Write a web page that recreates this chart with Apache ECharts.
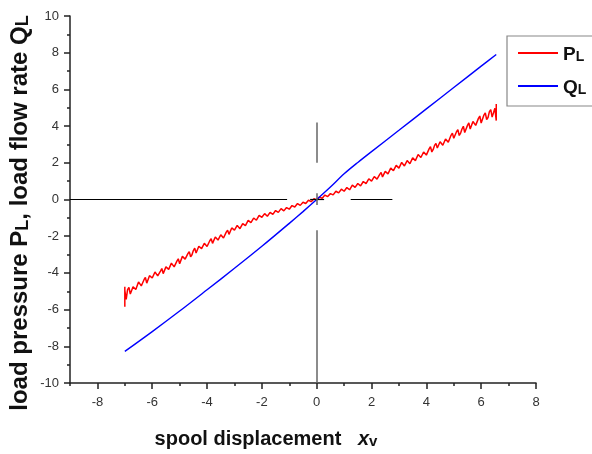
<!DOCTYPE html>
<html><head><meta charset="utf-8">
<script src="https://cdn.jsdelivr.net/npm/echarts@6/dist/echarts.min.js"></script>
<style>html,body{margin:0;padding:0;background:#fff}#c{width:592px;height:454px}</style>
</head><body><div id="c"></div>
<script>
// ---- data ----
const xTickLabels = [-8, -6, -4, -2, 0, 2, 4, 6, 8];
const yTickLabels = [-10, -8, -6, -4, -2, 0, 2, 4, 6, 8, 10];

const blueX = [-7, -6, -5, -4, -3, -2, -1, -0.5, 0, 0.5, 1, 1.5, 2, 3, 4, 5, 6, 6.55];
const blueY = [-8.28, -7.2, -6.08, -4.92, -3.75, -2.55, -1.3, -0.66, 0, 0.68, 1.4, 2.02, 2.61, 3.77, 4.94, 6.10, 7.27, 7.9];

// red (noisy) samples, read as an envelope from the picture
const redX = [-7.0, -7.0, -7.0, -7.0,
  -6.9, -6.8, -6.7, -6.6, -6.5, -6.4, -6.3, -6.2, -6.1, -6.0,
  -5.9, -5.8, -5.7, -5.6, -5.5, -5.4, -5.3, -5.2, -5.1, -5.0,
  -4.9, -4.8, -4.7, -4.6, -4.5, -4.4, -4.3, -4.2, -4.1, -4.0,
  -3.9, -3.8, -3.7, -3.6, -3.5, -3.4, -3.3, -3.2, -3.1, -3.0,
  -2.9, -2.8, -2.7, -2.6, -2.5, -2.4, -2.3, -2.2, -2.1, -2.0,
  -1.9, -1.8, -1.7, -1.6, -1.5, -1.4, -1.3, -1.2, -1.1, -1.0,
  -0.9, -0.8, -0.7, -0.6, -0.5, -0.4, -0.3, -0.2, -0.1, 0.0,
  0.1, 0.2, 0.3, 0.4, 0.5, 0.6, 0.7, 0.8, 0.9, 1.0,
  1.1, 1.2, 1.3, 1.4, 1.5, 1.6, 1.7, 1.8, 1.9, 2.0,
  2.1, 2.2, 2.3, 2.4, 2.5, 2.6, 2.7, 2.8, 2.9, 3.0,
  3.1, 3.2, 3.3, 3.4, 3.5, 3.6, 3.7, 3.8, 3.9, 4.0,
  4.1, 4.2, 4.3, 4.4, 4.5, 4.6, 4.7, 4.8, 4.9, 5.0,
  5.1, 5.2, 5.3, 5.4, 5.5, 5.6, 5.7, 5.8, 5.9, 6.0,
  6.1, 6.2, 6.3, 6.4, 6.5, 6.55, 6.55, 6.55];
const redY = [-5.55, -4.75, -5.85, -4.95,
  -4.91, -5.15, -4.75, -4.90, -4.49, -4.71, -4.37, -4.56, -4.15, -4.28,
  -3.95, -4.16, -3.90, -4.04, -3.67, -3.81, -3.47, -3.67, -3.36, -3.50,
  -3.10, -3.25, -2.95, -3.12, -2.78, -2.92, -2.55, -2.68, -2.39, -2.56,
  -2.25, -2.39, -2.04, -2.21, -1.92, -2.10, -1.78, -1.90, -1.55, -1.67,
  -1.41, -1.59, -1.31, -1.42, -1.14, -1.26, -1.01, -1.13, -0.86, -0.97,
  -0.77, -0.91, -0.70, -0.81, -0.60, -0.70, -0.50, -0.62, -0.44, -0.53,
  -0.33, -0.41, -0.22, -0.32, -0.15, -0.22, -0.04, -0.12, 0.04, -0.02,
  0.13, 0.07, 0.24, 0.16, 0.32, 0.25, 0.45, 0.36, 0.56, 0.45,
  0.65, 0.53, 0.78, 0.66, 0.87, 0.74, 0.98, 0.87, 1.13, 1.00,
  1.25, 1.11, 1.37, 1.23, 1.53, 1.40, 1.71, 1.57, 1.86, 1.71,
  2.02, 1.83, 2.12, 1.95, 2.27, 2.12, 2.45, 2.29, 2.59, 2.42,
  2.76, 2.59, 2.95, 2.81, 3.15, 2.96, 3.30, 3.12, 3.50, 3.34,
  3.69, 3.49, 3.84, 3.65, 4.04, 3.84, 4.25, 4.04, 4.42, 4.17,
  4.60, 4.36, 4.79, 4.49, 4.97, 4.30, 5.20, 4.55];
const redX2 = [-6.95, -6.85, -6.75, -6.65, -6.55, -6.45, -6.35, -6.25, -6.15, -6.05,
  -5.95, -5.85, -5.75, -5.65, -5.55, -5.45, -5.35, -5.25, -5.15, -5.05,
  -4.95, -4.85, -4.75, -4.65, -4.55, -4.45, -4.35, -4.25, -4.15, -4.05,
  -3.95, -3.85, -3.75, -3.65, -3.55, -3.45, -3.35, -3.25, -3.15, -3.05,
  -2.95, -2.85, -2.75, -2.65, -2.55, -2.45, -2.35, -2.25, -2.15, -2.05,
  -1.95, -1.85, -1.75, -1.65, -1.55, -1.45, -1.35, -1.25, -1.15, -1.05,
  -0.95, -0.85, -0.75, -0.65, -0.55, -0.45, -0.35, -0.25, -0.15, -0.05,
  0.05, 0.15, 0.25, 0.35, 0.45, 0.55, 0.65, 0.75, 0.85, 0.95,
  1.05, 1.15, 1.25, 1.35, 1.45, 1.55, 1.65, 1.75, 1.85, 1.95,
  2.05, 2.15, 2.25, 2.35, 2.45, 2.55, 2.65, 2.75, 2.85, 2.95,
  3.05, 3.15, 3.25, 3.35, 3.45, 3.55, 3.65, 3.75, 3.85, 3.95,
  4.05, 4.15, 4.25, 4.35, 4.45, 4.55, 4.65, 4.75, 4.85, 4.95,
  5.05, 5.15, 5.25, 5.35, 5.45, 5.55, 5.65, 5.75, 5.85, 5.95,
  6.05, 6.15, 6.25, 6.35, 6.45];
const redY2 = [-5.45, -4.79, -5.15, -4.77, -4.91, -4.41, -4.64, -4.25, -4.56, -4.21,
  -4.34, -3.88, -4.10, -3.76, -4.04, -3.74, -3.85, -3.38, -3.59, -3.23,
  -3.49, -3.15, -3.32, -2.84, -3.01, -2.65, -2.93, -2.60, -2.73, -2.29,
  -2.51, -2.14, -2.42, -2.12, -2.25, -1.84, -2.00, -1.67, -1.91, -1.60,
  -1.72, -1.34, -1.55, -1.22, -1.44, -1.19, -1.29, -0.93, -1.11, -0.81,
  -1.00, -0.74, -0.89, -0.63, -0.74, -0.55, -0.72, -0.49, -0.62, -0.38,
  -0.52, -0.35, -0.43, -0.19, -0.31, -0.10, -0.21, -0.07, -0.12, 0.07,
  -0.02, 0.17, 0.08, 0.23, 0.17, 0.39, 0.26, 0.42, 0.35, 0.60,
  0.44, 0.72, 0.61, 0.83, 0.64, 0.94, 0.75, 0.97, 0.85, 1.19,
  0.99, 1.34, 1.20, 1.48, 1.24, 1.61, 1.38, 1.67, 1.54, 1.95,
  1.71, 2.08, 1.93, 2.22, 1.95, 2.37, 2.11, 2.40, 2.25, 2.69,
  2.43, 2.88, 2.73, 3.06, 2.77, 3.25, 2.96, 3.29, 3.12, 3.62,
  3.31, 3.80, 3.62, 3.99, 3.64, 4.17, 3.82, 4.20, 3.98, 4.55,
  4.15, 4.72, 4.47, 4.90, 4.41];

// crosshair segments: horizontal [x1,x2] at y=0, vertical [y1,y2] at x=0
const crossH = [[-9, -1.08], [1.24, 2.76], [-0.24, 0.27]];
const crossV = [[4.2, 2.0], [0.34, -0.3], [-1.67, -10]];

// ---- chart ----
const FONT = '"Liberation Sans", Arial, sans-serif';
const chart = echarts.init(document.getElementById('c'), null, {renderer: 'canvas'});
const axisCol = '#222';
const zip = (a, b) => a.map((v, i) => [v, b[i]]);
const redData = zip(redX, redY).concat(zip(redX2, redY2)).sort((a, b) => a[0] - b[0]);

const option = {
  animation: false,
  backgroundColor: '#fff',
  grid: {left: 70, right: 56, top: 16, bottom: 71},
  xAxis: [{
    type: 'value', min: -9, max: 8, interval: 1,
    axisLine: {show: true, onZero: false, lineStyle: {color: axisCol, width: 1.5}},
    axisTick: {show: true, length: 3, lineStyle: {color: axisCol, width: 1.5}},
    axisLabel: {formatter: v => xTickLabels.includes(v) ? String(v) : '', margin: 13,
      color: '#333', fontSize: 13, fontFamily: FONT},
    splitLine: {show: false}
  }, {
    type: 'value', min: -9, max: 8, position: 'bottom',
    axisLine: {show: false, onZero: false},
    axisLabel: {show: false},
    axisTick: {show: true, customValues: xTickLabels, length: 6, lineStyle: {color: axisCol, width: 1.5}},
    splitLine: {show: false}
  }],
  yAxis: {
    type: 'value', min: -10, max: 10, interval: 2,
    axisLine: {show: true, onZero: false, lineStyle: {color: axisCol, width: 1.5}},
    axisTick: {show: true, length: 6, lineStyle: {color: axisCol, width: 1.5}},
    minorTick: {show: true, splitNumber: 2, length: 3, lineStyle: {color: axisCol, width: 1.5}},
    axisLabel: {formatter: v => yTickLabels.includes(v) ? String(v) : '', margin: 11,
      color: '#333', fontSize: 13, fontFamily: FONT},
    splitLine: {show: false}
  },
  legend: {
    data: ['PL', 'QL'], orient: 'vertical', left: 507, top: 36,
    padding: [9, 20, 9, 10], itemWidth: 40, itemHeight: 14, itemGap: 14,
    borderColor: '#888', borderWidth: 1.2, backgroundColor: '#fff',
    itemStyle: {opacity: 0},
    formatter: n => n === 'PL' ? '{a|P}{b|L}' : '{a|Q}{b|L}',
    textStyle: {
      rich: {
        a: {fontSize: 19, fontWeight: 'bold', color: '#111', fontFamily: FONT, verticalAlign: 'bottom', lineHeight: 22},
        b: {fontSize: 14, fontWeight: 'bold', color: '#111', fontFamily: FONT, verticalAlign: 'bottom', lineHeight: 20}
      }
    }
  },
  graphic: [{
    type: 'text', x: 266, y: 437,
    style: {
      text: '{n|spool displacement   }{i|x}{s|v}',
      align: 'center', verticalAlign: 'middle',
      rich: {
        n: {fontSize: 20, fontWeight: 'bold', fill: '#111', fontFamily: FONT, verticalAlign: 'bottom', lineHeight: 24},
        i: {fontSize: 20, fontWeight: 'bold', fontStyle: 'italic', fill: '#111', fontFamily: FONT, verticalAlign: 'bottom', lineHeight: 24},
        s: {fontSize: 15, fontWeight: 'bold', fill: '#111', fontFamily: FONT, verticalAlign: 'bottom', lineHeight: 22}
      }
    }
  }, {
    type: 'text', x: 18, y: 213, rotation: Math.PI / 2,
    style: {
      text: '{n|load pressure P}{s|L}{n|, load flow rate Q}{s|L}',
      align: 'center', verticalAlign: 'middle',
      rich: {
        n: {fontSize: 24, fontWeight: 'bold', fill: '#111', fontFamily: FONT, verticalAlign: 'bottom', lineHeight: 28},
        s: {fontSize: 18, fontWeight: 'bold', fill: '#111', fontFamily: FONT, verticalAlign: 'bottom', lineHeight: 25}
      }
    }
  }],
  series: [{
    name: 'PL', type: 'line', data: redData, symbol: 'none',
    lineStyle: {color: '#ff0000', width: 1.5}, itemStyle: {color: '#ff0000'}, z: 2
  }, {
    name: 'QL', type: 'line', data: zip(blueX, blueY), symbol: 'none', smooth: 0.3,
    lineStyle: {color: '#0000ff', width: 1.4}, itemStyle: {color: '#0000ff'}, z: 3
  }, {
    name: 'crossH', type: 'line', data: [], symbol: 'none', z: 4,
    markLine: {
      silent: true, symbol: 'none', label: {show: false}, animation: false,
      lineStyle: {type: 'solid', color: '#000', width: 1.2},
      data: crossH.map(s => [{coord: [s[0], 0]}, {coord: [s[1], 0]}])
    }
  }, {
    name: 'crossV', type: 'line', data: [], symbol: 'none', z: 4,
    markLine: {
      silent: true, symbol: 'none', label: {show: false}, animation: false,
      lineStyle: {type: 'solid', color: '#666', width: 1.5},
      data: crossV.map(s => [{coord: [0, s[0]]}, {coord: [0, s[1]]}])
    }
  }]
};
chart.setOption(option);
</script>
</body></html>
